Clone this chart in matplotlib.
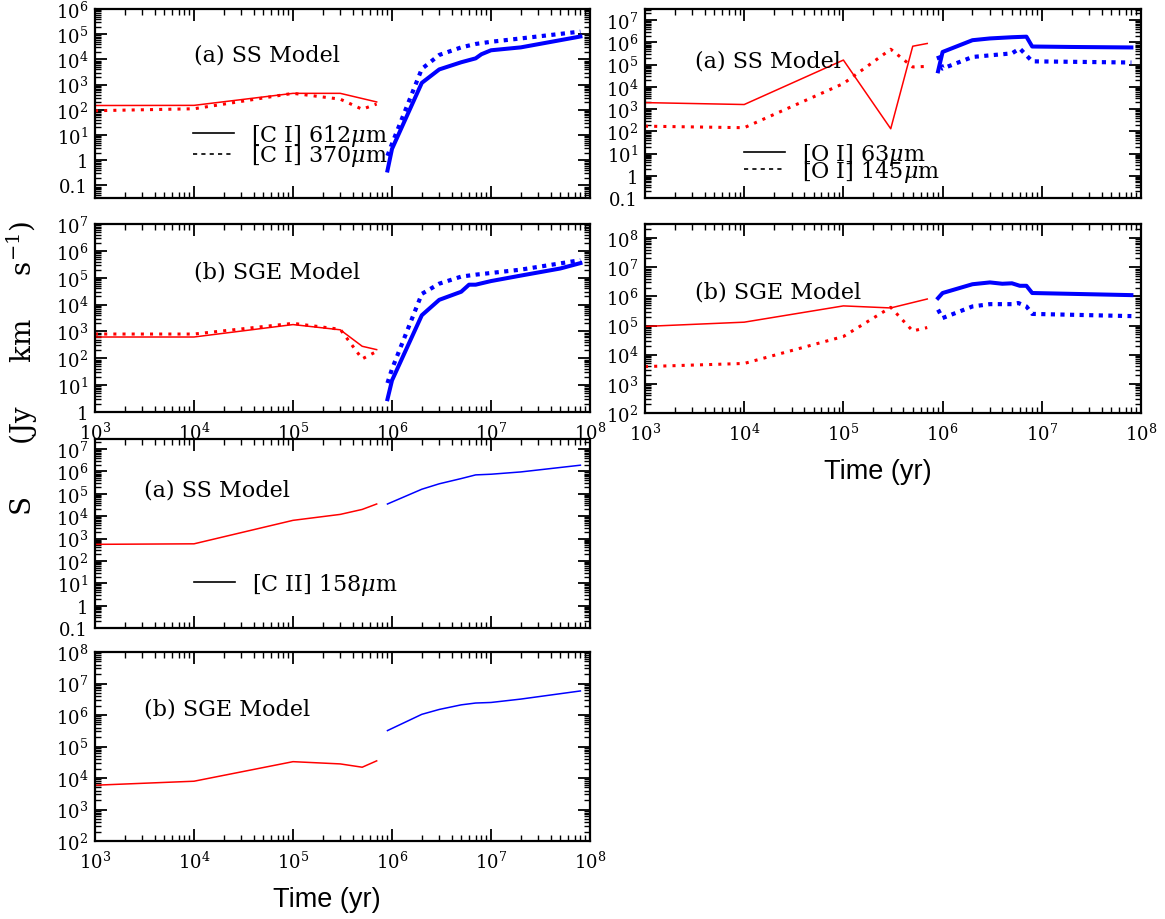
import matplotlib
matplotlib.use('Agg')
import matplotlib.pyplot as plt
from matplotlib.lines import Line2D
from matplotlib.ticker import LogLocator, FuncFormatter, NullFormatter
import numpy as np

plt.rcParams['font.family'] = 'DejaVu Serif'
plt.rcParams['mathtext.fontset'] = 'dejavuserif'

RED = '#ff0000'
BLUE = '#0000ff'

# ---------------- data: time (yr) and S (Jy km/s) ----------------
# [C I] lines, SS model
ci612_ss_t_early = [1e3, 1e4, 1e5, 3e5, 7e5]
ci612_ss_s_early = [148, 150, 450, 450, 205]
ci370_ss_t_early = [1e3, 1e4, 1e5, 3e5, 5e5, 7e5]
ci370_ss_s_early = [92, 110, 450, 265, 105, 170]
ci612_ss_t_late = [9e5, 1e6, 2e6, 3e6, 5e6, 7e6, 8e6, 1e7, 2e7, 8e7]
ci612_ss_s_late = [0.39, 2.8, 1170, 4000, 7700, 11000, 16000, 23000, 30000, 81000]
ci370_ss_t_late = [9e5, 1e6, 2e6, 3e6, 5e6, 7e6, 1e7, 2e7, 8e7]
ci370_ss_s_late = [1.5, 4.5, 4200, 15000, 30000, 41000, 50000, 68000, 127000]

# [C I] lines, SGE model
ci612_sge_t_early = [1e3, 1e4, 1e5, 3e5, 5e5, 7e5]
ci612_sge_s_early = [620, 620, 1800, 1150, 280, 210]
ci370_sge_t_early = [1e3, 1e4, 1e5, 3e5, 5e5, 7e5]
ci370_sge_s_early = [800, 800, 2000, 1200, 95, 180]
ci612_sge_t_late = [9e5, 1e6, 2e6, 3e6, 5e6, 6e6, 7e6, 1e7, 2e7, 5e7, 8e7]
ci612_sge_s_late = [3, 15, 4000, 15000, 30000, 55000, 55000, 75000, 120000, 220000, 350000]
ci370_sge_t_late = [9e5, 1e6, 2e6, 3e6, 5e6, 7e6, 1e7, 2e7, 8e7]
ci370_sge_s_late = [12, 40, 25000, 60000, 110000, 130000, 150000, 200000, 450000]

# [C II] 158 um
cii_ss_t_early = [1e3, 1e4, 1e5, 3e5, 5e5, 7e5]
cii_ss_s_early = [550, 580, 6500, 12000, 20000, 35000]
cii_ss_t_late = [9e5, 2e6, 3e6, 5e6, 7e6, 1e7, 2e7, 8e7]
cii_ss_s_late = [35000, 160000, 280000, 480000, 700000, 750000, 950000, 1.9e6]
cii_sge_t_early = [1e3, 1e4, 1e5, 3e5, 5e5, 7e5]
cii_sge_s_early = [5900, 7900, 33000, 28000, 22000, 35000]
cii_sge_t_late = [9e5, 2e6, 3e6, 5e6, 7e6, 1e7, 2e7, 8e7]
cii_sge_s_late = [320000, 1.05e6, 1.5e6, 2.1e6, 2.4e6, 2.5e6, 3.2e6, 5.8e6]

# [O I] lines, SS model
oi63_ss_t_early = [1e3, 1e4, 1e5, 3e5, 5e5, 7e5]
oi63_ss_s_early = [1950, 1600, 160000, 130, 670000, 890000]
oi145_ss_t_early = [1e3, 1e4, 1e5, 3e5, 5e5, 7e5]
oi145_ss_s_early = [170, 145, 14000, 490000, 78000, 83000]
oi63_ss_t_late = [9e5, 1e6, 2e6, 3e6, 5e6, 7e6, 8e6, 2e7, 8e7]
oi63_ss_s_late = [50000, 370000, 1.25e6, 1.5e6, 1.7e6, 1.8e6, 650000, 620000, 590000]
oi145_ss_t_late = [9e5, 1e6, 2e6, 3e6, 5e6, 6e6, 8e6, 8e7]
oi145_ss_s_late = [250000, 66000, 220000, 260000, 320000, 530000, 140000, 124000]

# [O I] lines, SGE model
oi63_sge_t_early = [1e3, 1e4, 1e5, 3e5, 7e5]
oi63_sge_s_early = [93000, 130000, 470000, 400000, 810000]
oi145_sge_t_early = [1e3, 1e4, 1e5, 3e5, 5e5, 7e5]
oi145_sge_s_early = [3900, 5000, 42000, 420000, 65000, 85000]
oi63_sge_t_late = [9e5, 1e6, 2e6, 3e6, 4e6, 5e6, 6e6, 7e6, 8e6, 8e7]
oi63_sge_s_late = [870000, 1.3e6, 2.6e6, 3e6, 2.7e6, 2.8e6, 2.3e6, 2.3e6, 1.3e6, 1.1e6]
oi145_sge_t_late = [9e5, 1e6, 2e6, 3e6, 5e6, 5.8e6, 7e6, 8e6, 8e7]
oi145_sge_s_late = [350000, 180000, 450000, 540000, 540000, 590000, 450000, 250000, 210000]

x_range = (1e3, 1e8)

# ---------------- figure ----------------
W, H = 1165, 920
fig = plt.figure(figsize=(W / 100, H / 100), dpi=100)


def box(x0, y0, x1, y1):
    return [x0 / W, 1 - y1 / H, (x1 - x0) / W, (y1 - y0) / H]


def tick_fmt(v, pos):
    e = int(round(np.log10(v)))
    if e == -1:
        return '0.1'
    if e == 0:
        return '1'
    return r'$10^{%d}$' % e


def setup(ax, ylim, xlabels):
    ax.set_xscale('log')
    ax.set_yscale('log')
    ax.set_xlim(*x_range)
    ax.set_ylim(*ylim)
    for a in (ax.xaxis, ax.yaxis):
        a.set_major_locator(LogLocator(base=10, numticks=30))
        a.set_minor_locator(LogLocator(base=10, subs=np.arange(2, 10), numticks=30))
        a.set_minor_formatter(NullFormatter())
        a.set_major_formatter(FuncFormatter(tick_fmt))
    ax.tick_params(which='both', direction='in', top=True, right=True, labelsize=13)
    ax.tick_params(which='major', length=8.5, width=1.3, pad=5)
    ax.tick_params(which='minor', length=4.3, width=1.0)
    ax.tick_params(axis='x', which='major', pad=7)
    if not xlabels:
        ax.xaxis.set_major_formatter(NullFormatter())
    for s in ax.spines.values():
        s.set_linewidth(1.6)


def pair(ax, t_early, s_early, t_late, s_late, dotted, lw_red, lw_blue):
    if dotted:
        ax.plot(t_early, s_early, color=RED, lw=2.2, ls=(0, (1, 2.0)))
        ax.plot(t_late, s_late, color=BLUE, lw=3.0, ls=(0, (1, 1.3)))
    else:
        ax.plot(t_early, s_early, color=RED, lw=lw_red)
        ax.plot(t_late, s_late, color=BLUE, lw=lw_blue)


ax1 = fig.add_axes(box(95, 10, 590, 199))
ax2 = fig.add_axes(box(95, 225, 590, 413))
ax3 = fig.add_axes(box(95, 440, 590, 629))
ax4 = fig.add_axes(box(95, 653, 590, 842))
ax5 = fig.add_axes(box(645, 10, 1141, 199))
ax6 = fig.add_axes(box(645, 225, 1141, 414))

setup(ax1, (10 ** -1.5, 1e6), False)
setup(ax2, (1, 1e7), True)
setup(ax3, (0.1, 10 ** 7.45), False)
setup(ax4, (1e2, 1e8), True)
setup(ax5, (0.1, 10 ** 7.5), False)
setup(ax6, (1e2, 10 ** 8.48), True)

# [C I]
pair(ax1, ci612_ss_t_early, ci612_ss_s_early, ci612_ss_t_late, ci612_ss_s_late, False, 1.1, 2.9)
pair(ax1, ci370_ss_t_early, ci370_ss_s_early, ci370_ss_t_late, ci370_ss_s_late, True, 1.1, 2.9)
pair(ax2, ci612_sge_t_early, ci612_sge_s_early, ci612_sge_t_late, ci612_sge_s_late, False, 1.1, 2.9)
pair(ax2, ci370_sge_t_early, ci370_sge_s_early, ci370_sge_t_late, ci370_sge_s_late, True, 1.1, 2.9)
# [C II]
pair(ax3, cii_ss_t_early, cii_ss_s_early, cii_ss_t_late, cii_ss_s_late, False, 1.1, 1.1)
pair(ax4, cii_sge_t_early, cii_sge_s_early, cii_sge_t_late, cii_sge_s_late, False, 1.1, 1.1)
# [O I]
pair(ax5, oi63_ss_t_early, oi63_ss_s_early, oi63_ss_t_late, oi63_ss_s_late, False, 1.1, 2.9)
pair(ax5, oi145_ss_t_early, oi145_ss_s_early, oi145_ss_t_late, oi145_ss_s_late, True, 1.1, 2.9)
pair(ax6, oi63_sge_t_early, oi63_sge_s_early, oi63_sge_t_late, oi63_sge_s_late, False, 1.1, 2.9)
pair(ax6, oi145_sge_t_early, oi145_sge_s_early, oi145_sge_t_late, oi145_sge_s_late, True, 1.1, 2.9)

# panel labels
for ax, txt, x, y in [(ax1, '(a) SS Model', 0.20, 0.76),
                      (ax2, '(b) SGE Model', 0.20, 0.75),
                      (ax3, '(a) SS Model', 0.10, 0.735),
                      (ax4, '(b) SGE Model', 0.10, 0.70),
                      (ax5, '(a) SS Model', 0.10, 0.725),
                      (ax6, '(b) SGE Model', 0.10, 0.645)]:
    ax.text(x, y, txt, transform=ax.transAxes, fontsize=16, va='center', ha='left')

# legends (black keys)
solid_key = Line2D([], [], color='black', lw=1.2)
dot_key = Line2D([], [], color='black', lw=1.2, ls=(0, (2.5, 2.5)))
leg_kw = dict(frameon=False, fontsize=16, handlelength=1.85, handletextpad=0.75,
              borderpad=0, borderaxespad=0, loc='center left')
ax1.legend([solid_key, dot_key], [r'[C I] 612$\mu$m', r'[C I] 370$\mu$m'],
           bbox_to_anchor=(0.198, 0.28), labelspacing=-0.25, **leg_kw)
ax5.legend([solid_key, dot_key], [r'[O I] 63$\mu$m', r'[O I] 145$\mu$m'],
           bbox_to_anchor=(0.20, 0.188), labelspacing=-0.4, **leg_kw)
ax3.legend([solid_key], [r'[C II] 158$\mu$m'], bbox_to_anchor=(0.20, 0.233), **leg_kw)

# axis titles
fig.text(327 / W, 1 - 900 / H, 'Time (yr)', family='Liberation Sans', fontsize=19.5,
         ha='center', va='center')
fig.text(878 / W, 1 - 472 / H, 'Time (yr)', family='Liberation Sans', fontsize=19.5,
         ha='center', va='center')
fig.text(22 / W, 1 - 368 / H, r'S      (Jy     km     s$^{-1}$)', fontsize=20, rotation=90,
         ha='center', va='center')

fig.savefig('out.png', dpi=100)
